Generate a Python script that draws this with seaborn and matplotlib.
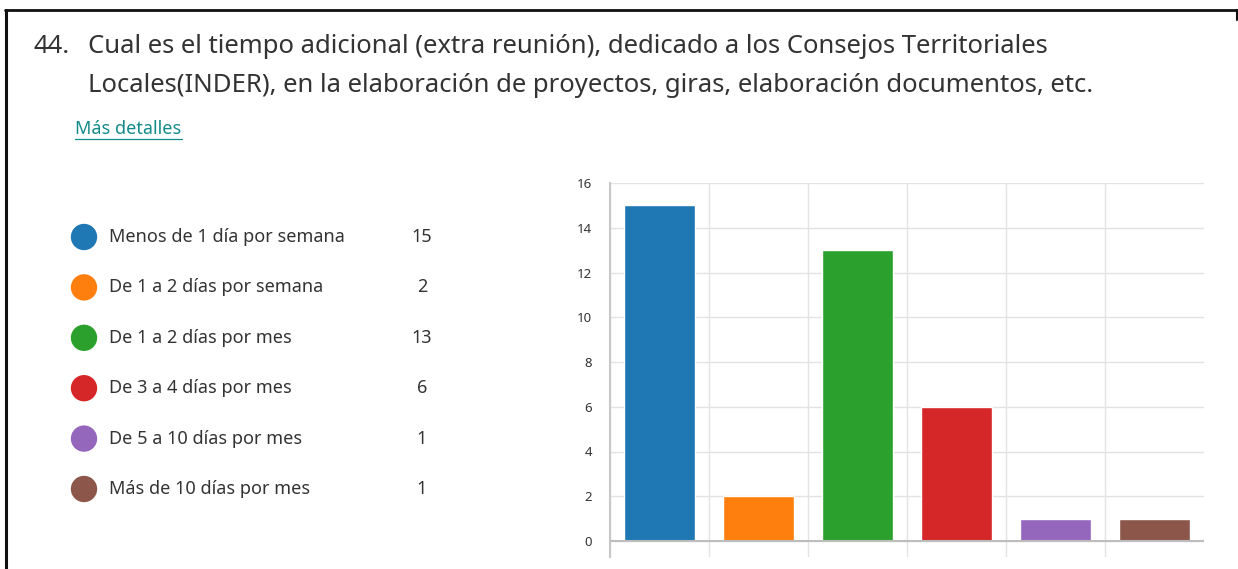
import numpy as np
import pandas as pd
import matplotlib.pyplot as plt
import seaborn as sns

sns.set_style("white")
plt.rcParams['font.family'] = ['Noto Sans', 'DejaVu Sans']

# data
categories = ["Menos de 1 día por semana", "De 1 a 2 días por semana", "De 1 a 2 días por mes",
              "De 3 a 4 días por mes", "De 5 a 10 días por mes", "Más de 10 días por mes"]
counts = [15, 2, 13, 6, 1, 1]
colors = ["#1f77b4", "#ff7f0e", "#2ca02c", "#d62728", "#9467bd", "#8c564b"]
yticks = [0, 2, 4, 6, 8, 10, 12, 14, 16]

title_num = "44."
title_lines = ["Cual es el tiempo adicional (extra reunión), dedicado a los Consejos Territoriales",
               "Locales(INDER), en la elaboración de proyectos, giras, elaboración documentos, etc."]

W, H = 1238, 569
fig = plt.figure(figsize=(W / 100, H / 100), dpi=100)

# background overlay in pixel coordinates for texts, legend and frame
bg = fig.add_axes([0, 0, 1, 1])
bg.set_xlim(0, W)
bg.set_ylim(H, 0)
bg.axis("off")

bg.plot([5, 1237], [10, 10], color="#111111", lw=2)
bg.plot([6, 6], [10, H], color="#111111", lw=2.2)
bg.plot([1237, 1237], [10, 20], color="#111111", lw=1.5)

txt = "#333333"
bg.text(33, 46, title_num, fontsize=18.5, color=txt, va="center")
for i, line in enumerate(title_lines):
    bg.text(88, 46 + i * 39, line, fontsize=18.5, color=txt, va="center")
bg.text(75, 129, "Más detalles", fontsize=13, color="#138a8a", va="center")
bg.plot([75, 182], [139, 139], color="#138a8a", lw=0.9)

for i, (cat, n, c) in enumerate(zip(categories, counts, colors)):
    y = 237 + i * 50.4
    bg.scatter([84], [y], s=360, color=c, edgecolors="none")
    bg.text(109, y, cat, fontsize=13, color=txt, va="center")
    bg.text(422, y, str(n), fontsize=13, color=txt, va="center", ha="center")

# bar chart
ax = fig.add_axes([610 / W, 1 - 557 / H, 594 / W, (557 - 183) / H])
df = pd.DataFrame({"cat": categories, "n": counts})
sns.barplot(data=df, x="cat", y="n", hue="cat", palette=colors, width=0.72,
            legend=False, ax=ax, saturation=1, zorder=3)

ax.set_xlim(-0.5, 5.5)
ax.set_ylim(-16 / 22.375, 16)
ax.set_xticks(np.arange(-0.5, 5, 1))
ax.set_xticklabels([])
ax.set_yticks(yticks)
ax.set_yticklabels([str(v) for v in yticks])
ax.tick_params(axis="x", length=0)
ax.tick_params(axis="y", length=12, width=1, color="#e3e3e3", labelsize=9.5, labelcolor=txt, pad=1)
ax.set_xlabel("")
ax.set_ylabel("")
ax.grid(True, color="#e3e3e3", lw=1, zorder=0)
ax.axhline(0, color="#bdbdbd", lw=1.5, zorder=4)
for s in ["top", "right", "bottom"]:
    ax.spines[s].set_visible(False)
ax.spines["left"].set_color("#c8c8c8")
ax.spines["left"].set_linewidth(1.5)

fig.savefig("out.png", dpi=100)
